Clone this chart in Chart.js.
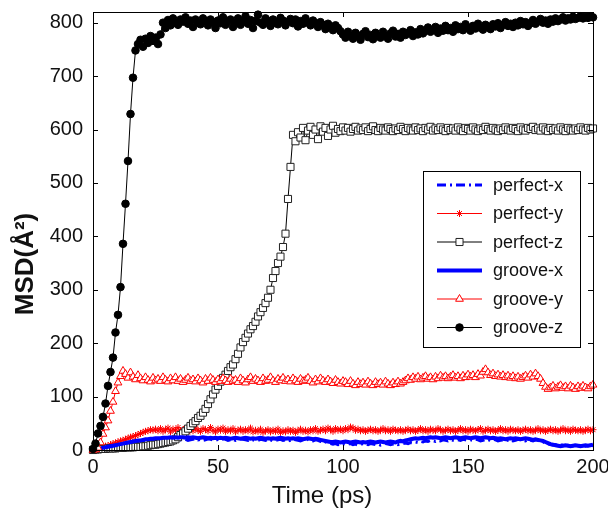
<!DOCTYPE html>
<html>
<head>
<meta charset="utf-8">
<script src="https://cdn.jsdelivr.net/npm/chart.js@4.4.1/dist/chart.umd.min.js"></script>
<style>
  html, body { margin: 0; padding: 0; background: #fff; }
  #wrap { width: 608px; height: 513px; }
</style>
</head>
<body>
<div id="wrap"><canvas id="msd-chart" width="608" height="513"></canvas></div>
<script>
// time axis, 1 ps steps
const times = Array.from({ length: 201 }, (_, i) => i);
const xTicks = [0, 50, 100, 150, 200];
const yTicks = [0, 100, 200, 300, 400, 500, 600, 700, 800];

const perfectX = [
  0, 1, 2, 3, 4, 5, 6, 7, 8, 9, 10, 11, 12, 12, 13, 14, 15, 16, 16, 17, 18, 18, 19, 19, 20, 20,
  19, 20, 18, 19, 20, 21, 19, 18, 20, 19, 21, 20, 18, 19, 20, 21, 19, 20, 18, 19, 21, 20, 19, 18, 20,
  19, 21, 20, 18, 19, 20, 18, 19, 21, 20, 19, 18, 20, 19, 17, 18, 20, 19, 18, 20, 19, 17, 18, 19, 20,
  18, 19, 17, 18, 20, 19, 18, 17, 19, 18, 20, 18, 17, 19, 18, 16, 17, 15, 13, 12, 11, 12, 10, 11, 12,
  10, 11, 12, 10, 11, 9, 10, 12, 11, 10, 12, 11, 10, 11, 9, 10, 12, 11, 10, 11, 12, 10, 11, 12, 13,
  12, 14, 13, 15, 14, 16, 15, 17, 16, 18, 17, 16, 18, 17, 19, 18, 17, 19, 18, 17, 19, 18, 20, 19, 18,
  19, 18, 20, 19, 17, 18, 20, 19, 18, 20, 19, 17, 18, 19, 20, 18, 19, 17, 18, 20, 19, 18, 17, 19, 18,
  17, 19, 18, 16, 15, 13, 12, 10, 9, 10, 8, 9, 10, 8, 9, 7, 8, 9, 10, 8, 9, 7, 8, 9, 8
];

const perfectY = [
  0, 1, 2, 4, 5, 7, 8, 10, 12, 13, 15, 17, 18, 20, 22, 24, 25, 27, 29, 31, 33, 35, 36, 38, 37, 39,
  36, 40, 35, 38, 41, 34, 39, 37, 42, 35, 38, 40, 34, 39, 36, 41, 37, 35, 40, 38, 36, 42, 37, 34, 39,
  37, 41, 35, 38, 36, 40, 34, 37, 39, 35, 38, 36, 41, 34, 37, 35, 39, 33, 36, 38, 34, 37, 35, 39, 33,
  36, 34, 38, 35, 37, 33, 36, 39, 35, 37, 34, 38, 36, 40, 35, 37, 39, 36, 41, 38, 35, 40, 37, 39, 36,
  40, 38, 43, 41, 37, 39, 36, 38, 35, 37, 39, 36, 38, 35, 37, 40, 36, 38, 35, 39, 37, 36, 38, 35, 37,
  39, 36, 38, 35, 37, 40, 36, 38, 35, 39, 37, 36, 40, 38, 35, 37, 39, 36, 38, 35, 37, 40, 36, 38, 35,
  39, 37, 36, 38, 40, 35, 37, 39, 36, 38, 35, 37, 40, 36, 38, 35, 39, 37, 36, 38, 35, 37, 39, 36, 38,
  35, 37, 40, 36, 38, 35, 37, 39, 36, 38, 35, 37, 40, 36, 38, 35, 39, 37, 36, 38, 35, 37, 39, 36, 38
];

const perfectZ = [
  0, 1, 1, 2, 2, 2, 3, 3, 3, 3, 4, 4, 4, 5, 5, 5, 5, 6, 6, 6, 7,
  7, 8, 9, 10, 10, 11, 12, 13, 14, 15, 16, 18, 20, 24, 28, 31, 35, 40, 45, 50,
  54, 60, 64, 70, 77, 86, 95, 104, 113, 120, 128, 135, 141, 148, 155, 160, 170, 180, 192, 202,
  210, 218, 226, 232, 240, 250, 258, 266, 275, 285, 300, 322, 335, 350, 362, 380, 405, 470, 530, 590,
  578, 595, 585, 603, 580, 598, 605, 590, 600, 582, 606, 596, 603, 588, 600, 607, 594, 601, 597, 604,
  598, 603, 596, 601, 605, 598, 602, 599, 604, 597,
  601, 606, 599, 597, 603, 600, 598, 604, 601, 597,
  602, 599, 605, 601, 597, 603, 600, 598, 604, 599,
  602, 597, 603, 600, 605, 598, 602, 599, 604, 600,
  597, 603, 599, 602, 598, 604, 600, 597, 603, 601,
  598, 604, 600, 597, 602, 599, 605, 601, 598, 603,
  600, 597, 602, 599, 604, 600, 598, 603, 601, 597,
  604, 600, 598, 603, 601, 605, 599, 602, 598, 604,
  600, 597, 603, 599, 602, 598, 604, 600, 597, 603,
  600, 598, 602, 599, 604, 600, 598, 603, 600, 602
];

const grooveX = [
  0, 1, 2, 3, 4, 5, 6, 7, 8, 9, 10, 11, 12, 13, 14, 15, 16, 17, 18, 18, 19, 20, 20, 21, 21, 22,
  22, 22, 23, 23, 23, 24, 23, 24, 23, 24, 24, 23, 24, 23, 24, 23, 22, 23, 24, 23, 22, 23, 22, 23, 22,
  23, 22, 23, 22, 21, 22, 23, 22, 21, 22, 23, 22, 21, 22, 21, 22, 23, 22, 21, 22, 21, 22, 21, 22, 23,
  22, 21, 22, 21, 22, 21, 22, 21, 20, 21, 22, 21, 20, 21, 20, 19, 18, 17, 16, 15, 15, 16, 15, 14, 15,
  16, 15, 14, 15, 16, 15, 14, 15, 14, 15, 16, 15, 14, 15, 16, 15, 14, 15, 16, 15, 14, 16, 17, 16, 18,
  19, 20, 21, 22, 21, 22, 23, 22, 23, 24, 23, 24, 23, 22, 23, 24, 23, 22, 23, 24, 23, 22, 23, 24, 23,
  22, 23, 24, 23, 22, 23, 24, 23, 22, 23, 22, 21, 22, 21, 20, 21, 22, 21, 22, 21, 20, 21, 22, 21, 20,
  19, 20, 19, 18, 17, 15, 13, 11, 10, 9, 8, 7, 8, 9, 8, 7, 8, 9, 8, 7, 8, 9, 8, 9, 10
];

const grooveY = [
  0, 1, 4, 14, 30, 42, 55, 73, 90, 110, 126, 138, 148, 142, 135, 145, 137, 132, 140, 134, 130,
  136, 131, 128, 135, 130, 133, 129, 136, 131, 128,
  134, 130, 136, 129, 133, 127, 131, 135, 129, 132,
  128, 134, 130, 126, 133, 129, 135, 131, 127, 132,
  129, 134, 130, 127, 133, 129, 131, 127, 134, 130,
  126, 132, 136, 129, 133, 130, 127, 134, 129, 131,
  136, 130, 127, 133, 130, 135, 129, 132, 128, 134,
  130, 127, 133, 129, 131, 135, 129, 126, 132, 128,
  134, 130, 127, 132, 128, 125, 131, 127, 124, 129,
  127, 123, 129, 124, 121, 127, 123, 126, 122, 128, 124, 121, 127, 123, 126, 122, 128, 124, 121, 126, 123, 128, 124, 127, 130,
  134, 131, 136, 133, 137, 132, 135, 138, 133, 136,
  132, 137, 134, 139, 135, 138, 134, 137, 140, 135,
  138, 134, 139, 136, 141, 137, 140, 136, 142, 139,
  146, 151, 145, 140, 143, 138, 141, 137, 140, 136,
  139, 135, 138, 134, 137, 133, 136, 139, 135, 141,
  137, 143, 138, 133, 125,
  118, 114, 117, 120, 115, 118, 121, 116, 119, 115, 120, 117, 114, 119, 116, 120, 117, 115, 119, 122
];

const grooveZ = [
  2, 12, 31, 45, 62, 87, 120, 146, 173, 220, 253, 305, 386, 461, 541, 629, 697, 748, 760, 768,
  755, 770, 762, 775, 766, 772, 760, 778,
  800, 790, 805, 795, 808, 800, 796, 806, 802, 810,
  798, 804, 792, 806, 800, 797, 808, 803, 795, 806,
  801, 790, 804, 799, 810, 796, 803, 806, 792, 800,
  808, 796, 802, 812, 798, 805, 790, 803, 815, 800,
  796, 808, 803, 794, 806, 800, 797, 809, 804, 795,
  802, 807, 799, 806, 793, 803, 798, 808, 800, 795,
  804, 799, 792, 801, 796, 788, 798, 793, 786, 795,
  790, 784,
  778, 772, 783, 776, 770, 781, 775, 768, 779, 784, 773, 777, 769, 781, 775, 772,
  783, 776, 770, 780, 785, 774, 779, 772, 783, 777, 781, 786, 775, 782, 778,
  788, 780, 785, 791, 783, 787, 792, 781, 789, 785, 794, 786, 790, 783, 795,
  788, 792, 786, 797, 790, 785, 794, 789, 798, 791, 787, 796, 792, 788, 797,
  793, 799, 790, 796, 801, 794, 798, 792, 800, 795, 803, 797, 801, 794, 799, 805, 798, 802, 807, 800,
  804, 798, 806, 802, 808, 803, 806, 810, 804, 808, 806, 811, 807, 809, 812, 808, 811, 809, 812, 810
];

const seriesNames = ['perfect-x', 'perfect-y', 'perfect-z', 'groove-x', 'groove-y', 'groove-z'];
const xTitle = 'Time (ps)';
const yTitle = 'MSD(Å²)';

const FONT = '"Liberation Sans", Arial, Helvetica, sans-serif';
Chart.defaults.font.family = FONT;
Chart.defaults.color = '#000';

function toPoints(values) {
  return values.map((v, i) => ({ x: times[i], y: v }));
}

// legend box drawn inside the plot, gnuplot style
const boxLegend = {
  id: 'boxLegend',
  afterDraw(chart) {
    const ctx = chart.ctx;
    const area = chart.chartArea;
    const x0 = area.right - 170, y0 = area.top + 159, w = 157, h = 176;
    ctx.save();
    ctx.fillStyle = '#fff';
    ctx.fillRect(x0, y0, w, h);
    ctx.strokeStyle = '#000';
    ctx.lineWidth = 1;
    ctx.strokeRect(x0 + 0.5, y0 + 0.5, w, h);
    chart.data.datasets.forEach((ds, i) => {
      const y = y0 + 14 + i * 28.5;
      const lx = x0 + 14, rx = x0 + 59, mx = x0 + 36.5;
      ctx.beginPath();
      ctx.setLineDash(ds.borderDash || []);
      ctx.strokeStyle = ds.borderColor;
      ctx.lineWidth = ds.borderWidth;
      ctx.moveTo(lx, y);
      ctx.lineTo(rx, y);
      ctx.stroke();
      ctx.setLineDash([]);
      if (ds.pointRadius > 0) {
        ctx.fillStyle = ds.pointBackgroundColor;
        ctx.strokeStyle = ds.pointBorderColor;
        ctx.lineWidth = ds.pointBorderWidth;
        Chart.helpers.drawPoint(ctx, { pointStyle: ds.pointStyle, radius: ds.pointRadius, borderWidth: ds.pointBorderWidth }, mx, y);
      }
      ctx.fillStyle = '#111';
      ctx.font = '18px ' + FONT;
      ctx.textBaseline = 'middle';
      ctx.textAlign = 'left';
      ctx.fillText(ds.label, x0 + 70, y + 1);
    });
    ctx.restore();
  }
};

// frame with inward ticks on all four sides
const frameTicks = {
  id: 'frameTicks',
  afterDatasetsDraw(chart) {
    const ctx = chart.ctx;
    const a = chart.chartArea;
    const xs = chart.scales.x, ys = chart.scales.y;
    const len = 5;
    ctx.save();
    ctx.strokeStyle = '#000';
    ctx.lineWidth = 1;
    ctx.strokeRect(Math.round(a.left) + 0.5, Math.round(a.top) + 0.5, Math.round(a.right - a.left), Math.round(a.bottom - a.top));
    ctx.beginPath();
    xTicks.forEach(v => {
      const px = Math.round(xs.getPixelForValue(v)) + 0.5;
      ctx.moveTo(px, a.bottom); ctx.lineTo(px, a.bottom - len);
      ctx.moveTo(px, a.top); ctx.lineTo(px, a.top + len);
    });
    yTicks.forEach(v => {
      const py = Math.round(ys.getPixelForValue(v)) + 0.5;
      ctx.moveTo(a.left, py); ctx.lineTo(a.left + len, py);
      ctx.moveTo(a.right, py); ctx.lineTo(a.right - len, py);
    });
    ctx.stroke();
    ctx.restore();
  }
};

// axis titles, placed where the original put them
const axisTitles = {
  id: 'axisTitles',
  afterDraw(chart) {
    const ctx = chart.ctx;
    const a = chart.chartArea;
    ctx.save();
    ctx.fillStyle = '#111';
    ctx.textAlign = 'center';
    ctx.textBaseline = 'middle';
    ctx.font = '24px ' + FONT;
    ctx.fillText(xTitle, a.left + 229, a.bottom + 46);
    ctx.translate(a.left - 67, a.top + 252);
    ctx.rotate(-Math.PI / 2);
    ctx.font = 'bold 26px ' + FONT;
    ctx.fillText(yTitle, 0, 0);
    ctx.restore();
  }
};

new Chart(document.getElementById('msd-chart'), {
  type: 'line',
  data: {
    datasets: [
      {
        label: seriesNames[0], data: toPoints(perfectX), order: 6,
        borderColor: '#0000ff', borderWidth: 3, borderDash: [9, 4, 2, 4],
        pointRadius: 0, pointBorderWidth: 0
      },
      {
        label: seriesNames[1], data: toPoints(perfectY), order: 5,
        borderColor: '#ff0000', borderWidth: 1,
        pointStyle: 'star', pointRadius: 3.5, pointBorderWidth: 1,
        pointBorderColor: '#ff0000', pointBackgroundColor: '#ff0000'
      },
      {
        label: seriesNames[2], data: toPoints(perfectZ), order: 4,
        borderColor: '#000', borderWidth: 1,
        pointStyle: 'rect', pointRadius: 5, pointBorderWidth: 1,
        pointBorderColor: '#222', pointBackgroundColor: '#fff'
      },
      {
        label: seriesNames[3], data: toPoints(grooveX), order: 3,
        borderColor: '#0000ff', borderWidth: 4,
        pointRadius: 0, pointBorderWidth: 0
      },
      {
        label: seriesNames[4], data: toPoints(grooveY), order: 2,
        borderColor: '#ff0000', borderWidth: 1,
        pointStyle: 'triangle', pointRadius: 4.5, pointBorderWidth: 1,
        pointBorderColor: '#ff0000', pointBackgroundColor: '#fff'
      },
      {
        label: seriesNames[5], data: toPoints(grooveZ), order: 1,
        borderColor: '#000', borderWidth: 1,
        pointStyle: 'circle', pointRadius: 3.8, pointBorderWidth: 1,
        pointBorderColor: '#000', pointBackgroundColor: '#000'
      }
    ]
  },
  options: {
    responsive: false,
    animation: false,
    devicePixelRatio: 1,
    clip: false,
    layout: { padding: { left: 0, right: 15, top: 12, bottom: 0 } },
    elements: { line: { tension: 0 } },
    plugins: { legend: { display: false }, tooltip: { enabled: false } },
    scales: {
      x: {
        type: 'linear', min: 0, max: 200,
        afterBuildTicks: s => { s.ticks = xTicks.map(v => ({ value: v })); },
        afterFit: s => { s.height = 63; s.paddingLeft = 0; s.paddingRight = 0; },
        grid: { display: false, drawTicks: false },
        border: { display: false },
        ticks: { font: { size: 20 }, color: '#111', padding: 5, maxRotation: 0 },
        title: { display: false }
      },
      y: {
        type: 'linear', min: 0, max: 820,
        afterBuildTicks: s => { s.ticks = yTicks.map(v => ({ value: v })); },
        afterFit: s => { s.width = 93; s.paddingTop = 0; s.paddingBottom = 0; },
        grid: { display: false, drawTicks: false },
        border: { display: false },
        ticks: { font: { size: 20 }, color: '#111', padding: 10 },
        title: { display: false }
      }
    }
  },
  plugins: [frameTicks, boxLegend, axisTitles]
});
</script>
</body>
</html>
